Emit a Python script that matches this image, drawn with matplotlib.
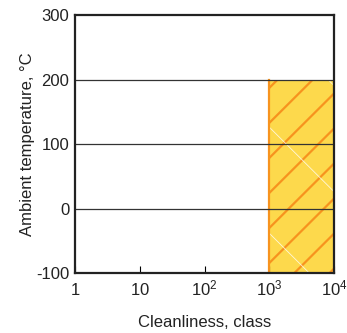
import numpy as np
import matplotlib
matplotlib.use("Agg")
import matplotlib.pyplot as plt
from matplotlib.patches import Rectangle

plt.rcParams['font.family'] = ['Liberation Sans', 'DejaVu Sans']
plt.rcParams['mathtext.fontset'] = 'custom'
plt.rcParams['mathtext.rm'] = 'Liberation Sans'
plt.rcParams['mathtext.it'] = 'Liberation Sans'
plt.rcParams['axes.unicode_minus'] = False

# data
x_ticks = [1, 10, 100, 1000, 10000]
x_labels = [r'$1$', r'$10$', r'$10^2$', r'$10^3$', r'$10^4$']
y_ticks = [-100, 0, 100, 200, 300]
y_grid = [0, 100, 200]
zone_x = [1000, 10000]
zone_y = [-100, 200]

fig = plt.figure(figsize=(3.47, 3.33), dpi=100)
ax = fig.add_axes([0.216, 0.18, 0.747, 0.775])
ax.set_xscale('log')
ax.set_xlim(1, 10000)
ax.set_ylim(-100, 300)

rect = Rectangle((zone_x[0], zone_y[0]), zone_x[1] - zone_x[0], zone_y[1] - zone_y[0],
                 facecolor='#fdd94c', edgecolor='none', zorder=1)
ax.add_patch(rect)

# hatch lines, drawn in axes fraction and clipped to the zone
t = np.array([-0.5, 1.5])
for c in np.arange(-0.168 - 0.1357 * 8, 1.0, 0.1357):
    ln, = ax.plot(t, t + c, transform=ax.transAxes, color='#f7931e', lw=1.6, zorder=2)
    ln.set_clip_path(rect)
for d in np.arange(0.904 - 0.411 * 2, 2.0, 0.411):
    ln, = ax.plot(t, d - t, transform=ax.transAxes, color='white', lw=0.6, alpha=0.8, zorder=2)
    ln.set_clip_path(rect)

ax.plot([zone_x[0], zone_x[0]], zone_y, color='#f7931e', lw=1.6, zorder=3)

for g in y_grid:
    ax.axhline(g, color='#333333', lw=0.9, zorder=4)

ax.set_xticks(x_ticks)
ax.set_xticklabels(x_labels)
ax.xaxis.set_minor_locator(matplotlib.ticker.NullLocator())
ax.set_yticks(y_ticks)
ax.tick_params(axis='x', direction='in', length=5, width=0.8, labelsize=12, pad=16,
               labelcolor='#222222')
ax.tick_params(axis='y', length=0, labelsize=12, pad=4, labelcolor='#222222')
for lab in ax.get_xticklabels():
    lab.set_va('baseline')

for s in ax.spines.values():
    s.set_linewidth(1.6)
    s.set_color('#222222')
    s.set_zorder(5)

ax.set_xlabel('Cleanliness, class', fontsize=12, labelpad=12, color='#222222')
ax.set_ylabel('Ambient temperature, °C', fontsize=12, labelpad=1, color='#222222')

fig.savefig('out.png', dpi=100)
